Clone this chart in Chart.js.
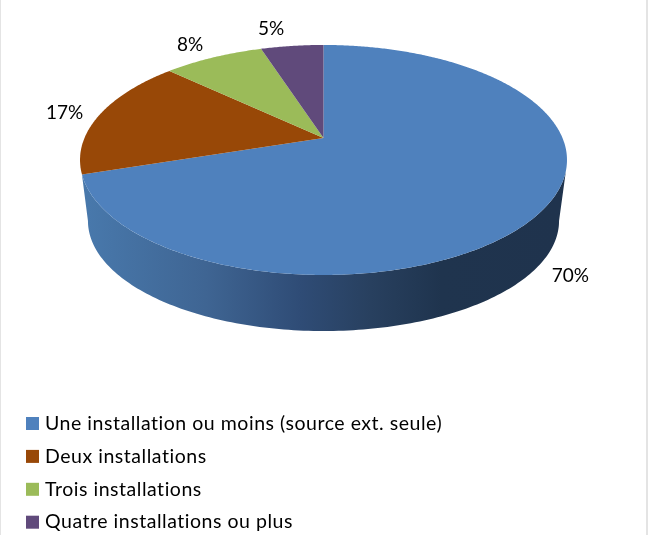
<!DOCTYPE html>
<html>
<head>
<meta charset="utf-8">
<title>Installations</title>
<script src="https://cdn.jsdelivr.net/npm/chart.js@4/dist/chart.umd.min.js"></script>
<style>
  html, body { margin: 0; padding: 0; background: #fff; }
  canvas { display: block; }
</style>
</head>
<body>
<canvas id="pieChart" width="648" height="535"></canvas>
<script>
const categories = [
    "Une installation ou moins (source ext. seule)",
    "Deux installations",
    "Trois installations",
    "Quatre installations ou plus"
];
const shares = [70, 17, 8, 5];
const sliceColors = ["#4f81bd", "#984807", "#9bbb59", "#604a7b"];

const LABEL_FONT = '19px Lato, "Open Sans", sans-serif';
const LEGEND_FONT = '19.5px Lato, "Open Sans", sans-serif';

// perspective of the tilted disc: angle is clockwise from the top
const tilt = 0.191;
const topFace = { x: 323.5, y: 138, rx: 239, ry: 110.8 };
const bottomFace = { x: 323.5, y: 200, rx: 231.2, ry: 106 };

// where the wall of the disc starts and stops being visible (degrees)
const wallTop = [106, 252];
const wallBottom = [101, 259];

// data label position, relative to the slice's outer edge
const labelOffsets = [[29, 65], [-35, -2], [-23, -12.5], [-21, -17]];

function project(face, angle) {
    let k = 1 + tilt * Math.cos(angle);
    return {
        x: face.x + face.rx * Math.sin(angle) / k,
        y: face.y - face.ry * Math.cos(angle) / k
    };
}

function rad(deg) {
    return deg * Math.PI / 180;
}

// arc elements count from 3 o'clock, the projection from 12 o'clock
function sliceAngles(arc) {
    return [arc.startAngle + Math.PI / 2, arc.endAngle + Math.PI / 2];
}

function drawWall(ctx) {
    let gradient = ctx.createLinearGradient(88, 0, 559, 0);
    gradient.addColorStop(0, "#4878ab");
    gradient.addColorStop(0.25, "#3f6593");
    gradient.addColorStop(0.45, "#2f4c76");
    gradient.addColorStop(0.6, "#28405f");
    gradient.addColorStop(0.75, "#1f344e");
    gradient.addColorStop(1, "#1f334d");

    ctx.beginPath();
    for (let d = wallTop[0]; d <= wallTop[1]; d++) {
        let p = project(topFace, rad(d));
        ctx.lineTo(p.x, p.y);
    }
    for (let d = wallBottom[1]; d >= wallBottom[0]; d--) {
        let p = project(bottomFace, rad(d));
        ctx.lineTo(p.x, p.y);
    }
    ctx.closePath();
    ctx.fillStyle = gradient;
    ctx.fill();
}

function drawSlice(ctx, arc, color) {
    let [start, end] = sliceAngles(arc);
    ctx.beginPath();
    ctx.moveTo(topFace.x, topFace.y);
    for (let a = start; a < end; a += rad(0.5)) {
        let p = project(topFace, a);
        ctx.lineTo(p.x, p.y);
    }
    let last = project(topFace, end);
    ctx.lineTo(last.x, last.y);
    ctx.closePath();
    ctx.fillStyle = color;
    ctx.fill();
}

const tiltedPie = {
    id: 'tiltedPie',
    beforeDatasetDraw(chart, args) {
        let ctx = chart.ctx;
        let arcs = args.meta.data;
        ctx.save();
        drawWall(ctx);
        arcs.forEach((arc, i) => drawSlice(ctx, arc, sliceColors[i]));

        // data labels
        ctx.font = LABEL_FONT;
        ctx.fillStyle = "#000";
        ctx.textAlign = "center";
        ctx.textBaseline = "middle";
        arcs.forEach((arc, i) => {
            let [start, end] = sliceAngles(arc);
            let p = project(topFace, (start + end) / 2);
            ctx.fillText(shares[i] + "%", p.x + labelOffsets[i][0], p.y + labelOffsets[i][1]);
        });
        ctx.restore();
        return false; // the slices are already drawn
    },
    afterDraw(chart) {
        let ctx = chart.ctx;
        ctx.save();
        // legend
        ctx.font = LEGEND_FONT;
        ctx.letterSpacing = "0.53px"; // Calibri runs wider than Lato here
        ctx.textAlign = "left";
        ctx.textBaseline = "middle";
        categories.forEach((name, i) => {
            let y = 423.5 + i * 32.9;
            ctx.fillStyle = sliceColors[i];
            ctx.fillRect(26, y - 6.5, 13, 13);
            ctx.fillStyle = "#000";
            ctx.fillText(name, 45, y);
        });
        ctx.letterSpacing = "0px";
        // frame of the original picture
        ctx.fillStyle = "#e4e4e4";
        ctx.fillRect(0, 0, 1, 535);
        ctx.fillRect(646, 0, 2, 535);
        ctx.restore();
    }
};

new Chart(document.getElementById('pieChart'), {
    type: 'pie',
    data: {
        labels: categories,
        datasets: [{ data: shares, backgroundColor: sliceColors, borderWidth: 0 }]
    },
    options: {
        responsive: false,
        animation: false,
        plugins: {
            legend: { display: false },
            tooltip: { enabled: false }
        }
    },
    plugins: [tiltedPie]
});
</script>
</body>
</html>
